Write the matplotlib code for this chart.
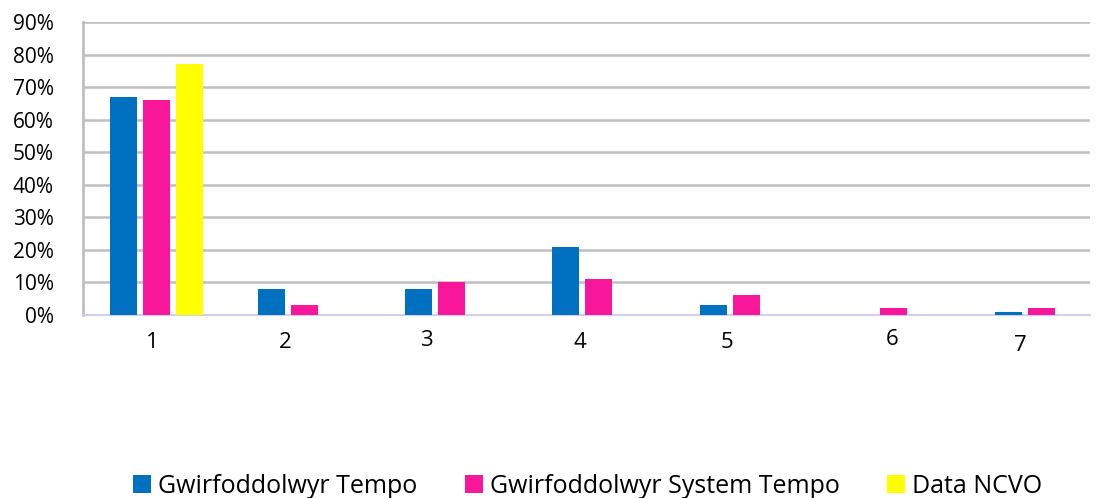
import matplotlib
matplotlib.use('Agg')
import matplotlib.pyplot as plt
import matplotlib.transforms as mtransforms
import numpy as np

categories = ['1', '2', '3', '4', '5', '6', '7']
tempo = [0.67, 0.08, 0.08, 0.21, 0.03, 0.0, 0.01]
system_tempo = [0.66, 0.03, 0.10, 0.11, 0.06, 0.02, 0.02]
ncvo = [0.77, 0, 0, 0, 0, 0, 0]
series_names = ['Gwirfoddolwyr Tempo', 'Gwirfoddolwyr System Tempo', 'Data NCVO']
colors = ['#0070C0', '#F8169A', '#FFFF00']

# the category labels sit a little off-centre in the original
label_dx = [-0.03, -0.13, -0.17, -0.13, -0.13, -0.01, -0.14]
label_dy = [0, 0, 2, 0, 0, 3, -3]

plt.rcParams['font.family'] = ['Open Sans', 'DejaVu Sans']

fig = plt.figure(figsize=(11.03, 4.98), dpi=100)
ax = fig.add_axes([0.0752, 0.3675, 0.9128, 0.5883])

x = np.arange(len(categories))
w = 0.183
step = 0.224
for i, (vals, name, c) in enumerate(zip([tempo, system_tempo, ncvo], series_names, colors)):
    ax.bar(x + (i - 1) * step, vals, width=w, color=c, label=name, zorder=3)

ax.set_xlim(-0.5, 6.33)
ax.set_ylim(0, 0.9)
ax.set_yticks(np.arange(0, 0.91, 0.1))
ax.set_yticklabels([f'{int(round(v * 100))}%' for v in np.arange(0, 0.91, 0.1)], fontsize=15)
ax.yaxis.grid(True, color='#BFBFBF', linewidth=1.8, zorder=0)
ax.tick_params(axis='y', length=0, pad=21)
ax.set_xticks([])

for s in ['top', 'right']:
    ax.spines[s].set_visible(False)
ax.spines['left'].set_color('#BFBFBF')
ax.spines['left'].set_linewidth(2)
ax.spines['bottom'].set_color('#D0D0EE')
ax.spines['bottom'].set_linewidth(1.5)

trans = mtransforms.blended_transform_factory(ax.transData, ax.transAxes)
for i, lab in enumerate(categories):
    off = mtransforms.offset_copy(trans, fig=fig, x=0, y=label_dy[i], units='dots')
    ax.text(x[i] + label_dx[i], -0.095, lab, transform=off, ha='center', va='center', fontsize=16)

fig.legend(loc='lower center', bbox_to_anchor=(0.533, -0.047), ncol=3, frameon=False,
           fontsize=18, handlelength=0.7, handleheight=0.7, handletextpad=0.3,
           columnspacing=1.9)

fig.savefig('out.png', dpi=100)
